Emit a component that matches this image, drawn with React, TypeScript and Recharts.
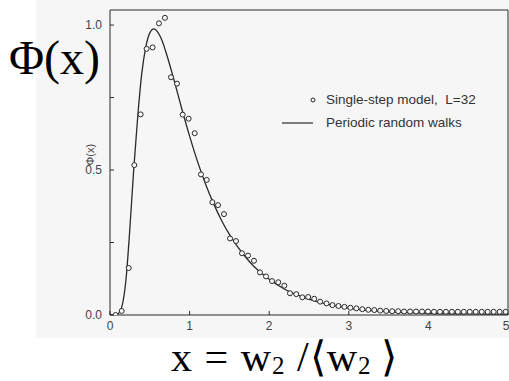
import React from 'react'
import {
  ComposedChart,
  Line,
  Scatter,
  XAxis,
  YAxis,
  Legend,
} from 'recharts'

// Periodic random walks curve
const curveX = [0, 0.05, 0.1, 0.15, 0.2, 0.25, 0.3, 0.35, 0.4, 0.45, 0.5, 0.55, 0.6, 0.65, 0.7, 0.8, 0.9, 1.0, 1.1, 1.2, 1.3, 1.4, 1.5, 1.6, 1.7, 1.8, 1.9, 2.0, 2.2, 2.4, 2.6, 2.8, 3.0, 3.25, 3.5, 3.75, 4.0, 4.5, 5.0]
const curveY = [0, 0, 0.004, 0.03, 0.12, 0.3, 0.51, 0.69, 0.835, 0.925, 0.973, 0.987, 0.976, 0.949, 0.909, 0.815, 0.713, 0.617, 0.529, 0.452, 0.385, 0.327, 0.278, 0.237, 0.201, 0.17, 0.145, 0.123, 0.088, 0.064, 0.046, 0.033, 0.024, 0.016, 0.011, 0.008, 0.006, 0.004, 0.003]

// Single-step model, L=32
const pointX = [0.07, 0.147, 0.235, 0.305, 0.385, 0.46, 0.535, 0.615, 0.69, 0.766, 0.842, 0.913, 0.988, 1.064, 1.143, 1.215, 1.286, 1.357, 1.432, 1.508, 1.583, 1.658, 1.734, 1.809, 1.884, 1.96, 2.035, 2.114, 2.19, 2.261, 2.34, 2.416, 2.49, 2.566, 2.64, 2.72, 2.795, 2.87, 2.945, 3.02, 3.095, 3.17, 3.245, 3.32, 3.395, 3.47, 3.545, 3.62, 3.695, 3.77, 3.845, 3.92, 3.995, 4.07, 4.145, 4.22, 4.295, 4.37, 4.445, 4.52, 4.595, 4.67, 4.745, 4.82, 4.895, 4.97]
const pointY = [0.0, 0.014, 0.162, 0.517, 0.692, 0.918, 0.923, 1.006, 1.025, 0.82, 0.798, 0.691, 0.677, 0.627, 0.485, 0.466, 0.389, 0.379, 0.348, 0.264, 0.255, 0.213, 0.205, 0.187, 0.147, 0.133, 0.117, 0.113, 0.101, 0.075, 0.072, 0.061, 0.062, 0.056, 0.046, 0.04, 0.034, 0.031, 0.028, 0.025, 0.023, 0.02, 0.018, 0.017, 0.015, 0.014, 0.013, 0.013, 0.012, 0.012, 0.012, 0.012, 0.012, 0.011, 0.011, 0.011, 0.011, 0.011, 0.011, 0.011, 0.011, 0.011, 0.011, 0.011, 0.011, 0.011]

const xTicks = [0, 1, 2, 3, 4, 5]
const yTicks = [0, 0.25, 0.5, 0.75, 1.0]
const yLabels = ['0.0', '', '0.5', '', '1.0']

const legendItems = ['Single-step model,  L=32', 'Periodic random walks']

const curve = curveX.map((x, i) => ({ x, y: curveY[i] }))
const points = pointX.map((x, i) => ({ x, y: pointY[i] }))

const INK = '#2a2a2a'
const LABEL = '#444'
const sans = '"Liberation Sans", Arial, sans-serif'
const serif = '"Liberation Serif", "Times New Roman", serif'

// eslint-disable-next-line @typescript-eslint/no-explicit-any
function OpenCircle({ cx, cy }: any) {
  if (cx == null || cy == null) return null
  return <circle cx={cx} cy={cy} r={2.5} fill="#f6f6f6" stroke={INK} strokeWidth={1} />
}

function LegendBox() {
  return (
    <div style={{ fontFamily: sans, fontSize: 13.5, color: '#333', lineHeight: '23px', whiteSpace: 'pre' }}>
      <div style={{ display: 'flex', alignItems: 'center' }}>
        <svg width={46} height={12}>
          <circle cx={33} cy={6} r={2} fill="none" stroke={INK} strokeWidth={1} />
        </svg>
        <span>{legendItems[0]}</span>
      </div>
      <div style={{ display: 'flex', alignItems: 'center' }}>
        <svg width={46} height={12}>
          <line x1={2} x2={33} y1={6} y2={6} stroke={INK} strokeWidth={1.2} />
        </svg>
        <span>{legendItems[1]}</span>
      </div>
    </div>
  )
}

const subStyle = { fontSize: 25, verticalAlign: -3, lineHeight: 0 }

export default function App() {
  return (
    <div style={{ position: 'absolute', left: 0, top: 0, width: 509, height: 381, background: '#fff', overflow: 'hidden' }}>
      <div style={{ position: 'absolute', left: 36, top: 0, width: 473, height: 338, background: '#f6f6f6' }} />
      <div style={{ position: 'absolute', left: 0, top: 0 }}>
        <ComposedChart width={509} height={381} margin={{ top: 9, right: 0, bottom: 36, left: 70 }}>
          <XAxis
            xAxisId="bottom"
            type="number"
            dataKey="x"
            domain={[0, 5]}
            ticks={xTicks}
            allowDataOverflow
            height={30}
            stroke={INK}
            tickSize={-4}
            tickMargin={10}
            tick={{ fontSize: 12, fill: LABEL, fontFamily: sans }}
          />
          <XAxis
            xAxisId="top"
            orientation="top"
            type="number"
            dataKey="x"
            domain={[0, 5]}
            ticks={xTicks}
            allowDataOverflow
            height={1}
            stroke={INK}
            tickSize={-4}
            tick={false}
          />
          <YAxis
            yAxisId="left"
            type="number"
            domain={[0, 1.052]}
            ticks={yTicks}
            allowDataOverflow
            width={40}
            stroke={INK}
            tickSize={-4}
            tickMargin={12}
            tickFormatter={(v: number) => yLabels[yTicks.indexOf(v)] ?? ''}
            tick={{ fontSize: 12, fill: LABEL, fontFamily: sans }}
            label={{ value: 'Φ(x)', angle: -90, position: 'insideLeft', offset: 20, dy: 3, style: { fontSize: 11, fill: LABEL, fontFamily: sans } }}
          />
          <YAxis
            yAxisId="right"
            orientation="right"
            type="number"
            domain={[0, 1.052]}
            ticks={yTicks}
            allowDataOverflow
            width={1}
            stroke={INK}
            tickSize={-4}
            tick={false}
          />
          <Line
            xAxisId="bottom"
            yAxisId="left"
            data={curve}
            dataKey="y"
            type="monotone"
            stroke={INK}
            strokeWidth={1.3}
            dot={false}
            activeDot={false}
            isAnimationActive={false}
          />
          <Scatter
            xAxisId="bottom"
            yAxisId="left"
            data={points}
            dataKey="y"
            shape={<OpenCircle />}
            isAnimationActive={false}
          />
          <Legend
            layout="vertical"
            align="center"
            verticalAlign="middle"
            content={<LegendBox />}
            wrapperStyle={{ left: 280, top: 88, width: 225 }}
          />
        </ComposedChart>
      </div>
      <div style={{ position: 'absolute', left: 9, top: 26, fontFamily: serif, fontSize: 48, lineHeight: '64px', color: '#000', whiteSpace: 'nowrap' }}>
        Φ(x)
      </div>
      <div style={{ position: 'absolute', left: 171, top: 342, fontFamily: serif, fontSize: 42, lineHeight: '30px', letterSpacing: 1, color: '#000', whiteSpace: 'nowrap' }}>
        x = w<sub style={subStyle}>2</sub> /⟨w<sub style={subStyle}>2</sub>&thinsp;⟩
      </div>
    </div>
  )
}
